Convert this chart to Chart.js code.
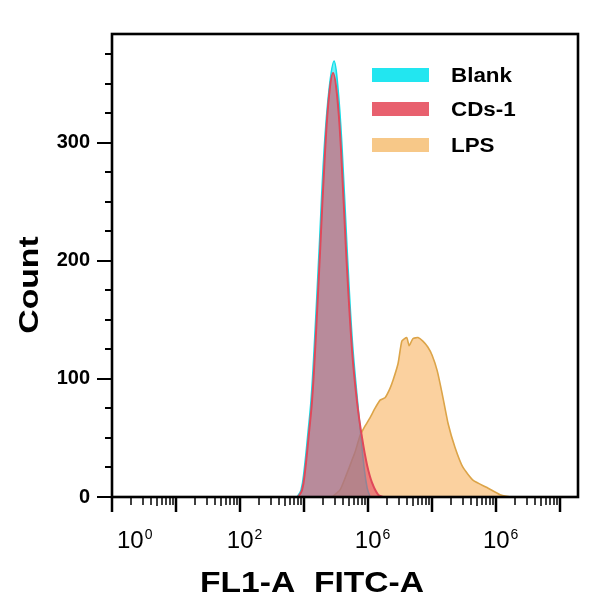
<!DOCTYPE html>
<html><head><meta charset="utf-8">
<script src="https://cdn.jsdelivr.net/npm/chart.js@4.4.1/dist/chart.umd.min.js"></script>
<style>html,body{margin:0;padding:0;background:#fff;}#wrap{width:598px;height:603px;}</style>
</head><body><div id="wrap"><canvas id="c" width="598" height="603"></canvas></div>
<script>
// ---- data ----
const seriesNames = ['Blank', 'CDs-1', 'LPS'];
const blankX = [777, 898, 1000, 1155, 1286, 1433, 1716, 2054, 2458, 2943, 3398, 3925, 4697, 5623, 6732, 7773, 8660, 9647, 10746];
const blankY = [0, 6, 22, 55, 82, 124, 208, 293, 345, 369, 345, 295, 210, 135, 85, 50, 25, 8, 0];
const cdsX = [806, 931, 1036, 1197, 1334, 1486, 1778, 2129, 2458, 2839, 3279, 3786, 4532, 5623, 6732, 8058, 9647, 11548, 14330, 17160];
const cdsY = [0, 6, 22, 55, 82, 124, 208, 293, 340, 359, 340, 293, 208, 124, 80, 50, 27, 12, 2, 0];
const lpsX = [2738, 3652, 4375, 5248, 6262, 7499, 8933, 10700, 12800, 15400, 18400, 22000, 24600, 29400, 33700, 40200, 43800, 50000, 60200, 71700, 85600, 100000, 120000, 143000, 178000, 228000, 304000, 439000, 720000, 1150000, 1650000];
const lpsY = [0, 6, 16, 27, 38, 52, 60, 67, 75, 82, 84, 92, 99, 113, 132, 135, 128, 134, 135, 132, 127, 120, 107, 88, 62, 42, 25, 14, 8, 2, 0];
const yTickValues = [0, 100, 200, 300];
const yMinorStep = 25;
const xLabelValues = [1, 100, 10000, 1000000];
const xLabelExps = ['0', '2', '6', '6'];
const xTitle = 'FL1-A  FITC-A';
const yTitle = 'Count';
const xMin = 1, xMax = 1.9e7, yMin = 0, yMax = 392;

const lineCols = ['#12dde8', '#e0485a', '#dca448'];
const fillCols = ['rgba(0,228,240,0.55)', 'rgba(226,78,98,0.62)', 'rgba(250,196,132,0.78)'];
const swatchCols = ['#22e6f0', '#e8606e', '#f7c888'];

function pts(xs, ys) { return xs.map((x, i) => ({x: x, y: ys[i]})); }

function drawText(ctx, text, x, y, font, align, stretch) {
  ctx.save();
  ctx.font = font;
  ctx.translate(x, y);
  ctx.scale(stretch, 1);
  ctx.textAlign = align;
  ctx.textBaseline = 'alphabetic';
  ctx.fillStyle = '#000';
  ctx.fillText(text, 0, 0);
  ctx.restore();
}

const decor = {
  id: 'decor',
  afterDraw(chart) {
    const ctx = chart.ctx, ca = chart.chartArea;
    const xs = chart.scales.x, ys = chart.scales.y;
    ctx.save();
    ctx.strokeStyle = '#000';
    // y ticks
    ctx.lineWidth = 2;
    for (let v = yMin; v <= yMax; v += yMinorStep) {
      const py = Math.round(ys.getPixelForValue(v)) + 0.0;
      const len = (v % 100 === 0) ? 15 : 7;
      ctx.beginPath(); ctx.moveTo(ca.left - len, py); ctx.lineTo(ca.left, py); ctx.stroke();
    }
    // x ticks (log)
    for (let d = 0; d <= 7; d++) {
      for (let m = 1; m <= 9; m++) {
        const v = m * Math.pow(10, d);
        if (v > xMax) break;
        const px = Math.round(xs.getPixelForValue(v));
        const len = (m === 1) ? 15 : (m === 5 ? 9 : 8);
        ctx.lineWidth = (m === 1) ? 2.5 : 1.5;
        ctx.beginPath(); ctx.moveTo(px, ca.bottom); ctx.lineTo(px, ca.bottom + len); ctx.stroke();
      }
    }
    // frame
    ctx.lineWidth = 2.6;
    ctx.strokeRect(ca.left, ca.top, ca.right - ca.left, ca.bottom - ca.top);
    // x labels
    xLabelValues.forEach((v, i) => {
      const px = xs.getPixelForValue(v);
      ctx.font = '24px "Liberation Sans", Arial, sans-serif';
      const w1 = ctx.measureText('10').width;
      ctx.font = '14px "Liberation Sans", Arial, sans-serif';
      const w2 = ctx.measureText(xLabelExps[i]).width;
      let left = px - (w1 + w2) / 2 + 4;
      left = Math.max(left, ca.left + 5);
      drawText(ctx, '10', left, 548, '24px "Liberation Sans", Arial, sans-serif', 'left', 1);
      drawText(ctx, xLabelExps[i], left + w1 + 1, 539, '14px "Liberation Sans", Arial, sans-serif', 'left', 1);
    });
    // axis titles
    drawText(ctx, xTitle, 312, 592, 'bold 30px "Liberation Sans", Arial, sans-serif', 'center', 1.12);
    ctx.save();
    ctx.translate(38, 285);
    ctx.rotate(-Math.PI / 2);
    drawText(ctx, yTitle, 0, 0, 'bold 27px "Liberation Sans", Arial, sans-serif', 'center', 1.25);
    ctx.restore();
    // legend
    const lx = 372, lw = 57, lh = 14, tops = [68, 102, 138];
    seriesNames.forEach((name, i) => {
      ctx.fillStyle = swatchCols[i];
      ctx.fillRect(lx, tops[i], lw, lh);
      drawText(ctx, name, 451, tops[i] + 14, 'bold 20px "Liberation Sans", Arial, sans-serif', 'left', 1.12);
    });
    ctx.restore();
  }
};

const mkSet = (i, xs, ys, order, tension, bw) => ({
  label: seriesNames[i],
  data: pts(xs, ys),
  borderColor: lineCols[i],
  backgroundColor: fillCols[i],
  borderWidth: bw,
  fill: 'origin',
  pointRadius: 0,
  tension: tension,
  order: order
});

new Chart(document.getElementById('c'), {
  type: 'line',
  data: {
    datasets: [
      mkSet(0, blankX, blankY, 2, 0.4, 1.6),
      mkSet(1, cdsX, cdsY, 1, 0.4, 2),
      mkSet(2, lpsX, lpsY, 3, 0.15, 1.6)
    ]
  },
  options: {
    responsive: false,
    animation: false,
    devicePixelRatio: 1,
    layout: {padding: {top: 32, right: 20, left: 0, bottom: 0}},
    plugins: {legend: {display: false}, tooltip: {enabled: false}},
    scales: {
      x: {
        type: 'logarithmic', min: xMin, max: xMax,
        grid: {display: false, drawTicks: false}, border: {display: false},
        ticks: {display: false},
        afterFit(s) { s.height = 106; }
      },
      y: {
        type: 'linear', min: yMin, max: yMax,
        grid: {display: false, drawTicks: false, tickLength: 0}, border: {display: false},
        afterBuildTicks(s) { s.ticks = yTickValues.map(v => ({value: v})); },
        ticks: {
          padding: 22, color: '#000',
          font: {family: '"Liberation Sans", Arial, sans-serif', size: 20, weight: 'bold'}
        },
        afterFit(s) { s.width = 112; }
      }
    }
  },
  plugins: [decor]
});
</script></body></html>
